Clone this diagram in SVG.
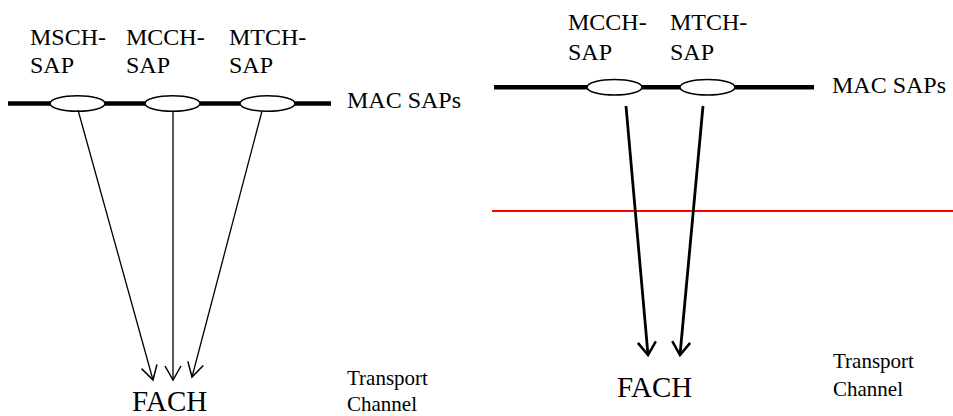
<svg xmlns="http://www.w3.org/2000/svg" width="953" height="416" viewBox="0 0 953 416" font-family="'Liberation Serif', 'Times New Roman', 'DejaVu Serif', serif">
<defs>
<marker id="openL" markerUnits="userSpaceOnUse" markerWidth="30" markerHeight="30" refX="15" refY="15" orient="auto" overflow="visible">
<path d="M1,7 L15,15 L1,23" fill="none" stroke="#000" stroke-width="1.5"/>
</marker>
<marker id="openR" markerUnits="userSpaceOnUse" markerWidth="30" markerHeight="30" refX="15" refY="15" orient="auto" overflow="visible">
<path d="M2,6 L15,15 L2,24" fill="none" stroke="#000" stroke-width="2.5"/>
</marker>
<style>
text{font-family:'Liberation Serif','Times New Roman','DejaVu Serif',serif;fill:#000}
.lab{font-size:24px}
.fach{font-size:29px}
.tc{font-size:21px}
.bus{stroke:#000;stroke-width:4.5;fill:none}
.sap{fill:#fff;stroke:#000;stroke-width:1.5}
.thin{stroke:#000;stroke-width:1.3;fill:none;marker-end:url(#openL)}
.thick{stroke:#000;stroke-width:2.8;fill:none;marker-end:url(#openR)}
</style>
</defs>
<rect width="953" height="416" fill="#fff"/>
<g id="left-bus">
<line class="bus" x1="8" y1="103.5" x2="331" y2="103.5"/>
<text class="lab" x="347" y="108">MAC SAPs</text>
</g>
<g id="msch-sap">
<ellipse class="sap" cx="77.5" cy="103.5" rx="27.5" ry="7.8"/>
<text class="lab" x="30" y="45">MSCH-</text>
<text class="lab" x="30" y="73">SAP</text>
</g>
<g id="mcch-sap-left">
<ellipse class="sap" cx="172.5" cy="103.5" rx="27.5" ry="7.8"/>
<text class="lab" x="126" y="45">MCCH-</text>
<text class="lab" x="126" y="73">SAP</text>
</g>
<g id="mtch-sap-left">
<ellipse class="sap" cx="267.5" cy="103.5" rx="27.5" ry="7.8"/>
<text class="lab" x="229" y="45">MTCH-</text>
<text class="lab" x="229" y="73">SAP</text>
</g>
<g id="fach-left">
<text class="fach" x="132" y="411">FACH</text>
</g>
<g id="tc-left">
<text class="tc" x="347" y="385">Transport</text>
<text class="tc" x="347" y="411">Channel</text>
</g>
<g id="right-bus">
<line class="bus" x1="494" y1="87.3" x2="814" y2="87.3"/>
<text class="lab" x="832" y="93">MAC SAPs</text>
</g>
<g id="mcch-sap-right">
<ellipse class="sap" cx="614.5" cy="87.3" rx="27.5" ry="7.8"/>
<text class="lab" x="568" y="30">MCCH-</text>
<text class="lab" x="568" y="60">SAP</text>
</g>
<g id="mtch-sap-right">
<ellipse class="sap" cx="707.5" cy="87.3" rx="27.5" ry="7.8"/>
<text class="lab" x="670" y="30">MTCH-</text>
<text class="lab" x="670" y="60">SAP</text>
</g>
<g id="boundary">
<line x1="492" y1="211" x2="953" y2="211" stroke="#f00" stroke-width="2"/>
</g>
<g id="fach-right">
<text class="fach" x="617" y="397">FACH</text>
</g>
<g id="tc-right">
<text class="tc" x="833" y="368">Transport</text>
<text class="tc" x="833" y="396">Channel</text>
</g>
<g id="connectors">
<line class="thin" x1="78" y1="110" x2="153" y2="380"/>
<line class="thin" x1="173" y1="112" x2="173" y2="380"/>
<line class="thin" x1="262" y1="111" x2="192" y2="377"/>
<line class="thick" x1="626" y1="106" x2="648" y2="355"/>
<line class="thick" x1="703" y1="106" x2="680" y2="355"/>
</g>
</svg>
